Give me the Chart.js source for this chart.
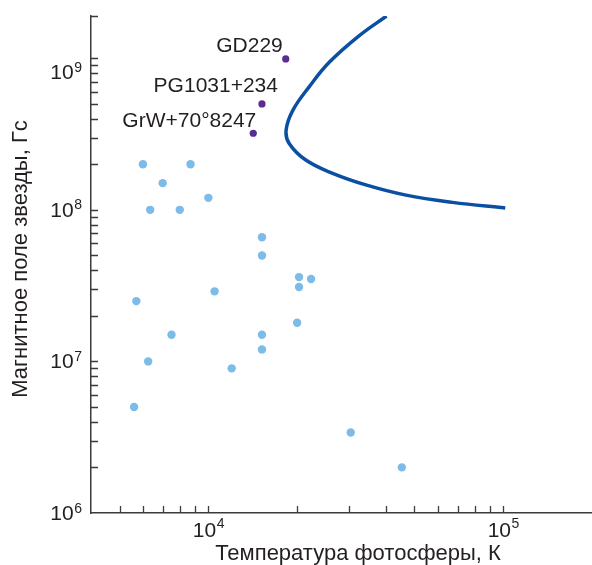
<!DOCTYPE html>
<html>
<head>
<meta charset="utf-8">
<script src="https://cdn.jsdelivr.net/npm/chart.js@4"></script>
<style>
  html, body { margin: 0; padding: 0; background: #fff; }
  #wrap { width: 592px; height: 565px; }
</style>
</head>
<body>
<div id="wrap"><canvas id="field-chart" width="592" height="565"></canvas></div>
<script>
// white dwarfs: photosphere temperature (K) vs magnetic field (G)
const blueTemp  = [6000, 8700, 7000, 6350, 8000, 10000, 15200, 15200, 20300, 22300, 20300, 5700, 10500, 7500, 6250, 5600, 12000, 15200, 15200, 20000, 30400, 45300];
const blueField = [2.0e8, 2.0e8, 1.5e8, 1.0e8, 1.0e8, 1.2e8, 6.6e7, 5.0e7, 3.6e7, 3.5e7, 3.1e7, 2.5e7, 2.9e7, 1.5e7, 1.0e7, 5.0e6, 9.0e6, 1.5e7, 1.2e7, 1.8e7, 3.4e6, 2.0e6];

const namedStars = ['GD229', 'PG1031+234', 'GrW+70°8247'];
const namedTemp  = [18300, 15200, 14200];
const namedField = [9.9e8, 5.0e8, 3.2e8];

const curveTemp  = [40200, 32500, 25700, 22000, 19300, 18350, 18800, 21400, 26400, 34200, 46800, 67300, 101600];
const curveField = [1.9e9, 1.41e9, 9.4e8, 6.5e8, 4.5e8, 3.35e8, 2.74e8, 2.13e8, 1.74e8, 1.46e8, 1.25e8, 1.12e8, 1.03e8];

const xTickLabels = [[1e4, '10', '4'], [1e5, '10', '5']];
const yTickLabels = [[1e6, '10', '6'], [1e7, '10', '7'], [1e8, '10', '8'], [1e9, '10', '9']];

const xTitle = 'Температура фотосферы, К';
const yTitle = 'Магнитное поле звезды, Гс';

// label placement next to the named stars (dx, dy from the dot, right aligned)
const nameOffsets = [[-3, -7], [16, -12], [3, -6]];
const yLabelShift = { 1e9: 14 };

const FONT = '"Liberation Sans", Arial, sans-serif';
const TEXT = '#231f20';
const AXIS = '#3b3b3b';

const toPoints = (xs, ys) => xs.map((v, i) => ({ x: v, y: ys[i] }));

const axisDecor = {
  id: 'axisDecor',
  afterDraw(chart) {
    const { ctx, chartArea, scales: { x, y } } = chart;
    ctx.save();
    ctx.strokeStyle = AXIS;
    ctx.lineWidth = 1.3;

    // inward ticks, every 1..9 of each decade
    ctx.beginPath();
    for (let d = 3; d <= 5; d++) {
      for (let m = 1; m <= 9; m++) {
        const v = m * Math.pow(10, d);
        if (v <= x.min || v > 1e5) continue;
        const px = Math.round(x.getPixelForValue(v)) + 0.5;
        ctx.moveTo(px, chartArea.bottom);
        ctx.lineTo(px, chartArea.bottom - 7);
      }
    }
    for (let d = 6; d <= 9; d++) {
      for (let m = 1; m <= 9; m++) {
        const v = m * Math.pow(10, d);
        if (v <= y.min || v > y.max) continue;
        const py = Math.round(y.getPixelForValue(v)) + 0.5;
        ctx.moveTo(chartArea.left, py);
        ctx.lineTo(chartArea.left + 7, py);
      }
    }
    ctx.moveTo(chartArea.left, Math.round(chartArea.top) + 0.5);
    ctx.lineTo(chartArea.left + 7, Math.round(chartArea.top) + 0.5);
    ctx.stroke();

    ctx.fillStyle = TEXT;
    ctx.textBaseline = 'alphabetic';

    // x tick labels with superscript
    for (const [v, base, exp] of xTickLabels) {
      const px = x.getPixelForValue(v);
      ctx.font = '21px ' + FONT;
      const wb = ctx.measureText(base).width;
      ctx.font = '14px ' + FONT;
      const we = ctx.measureText(exp).width;
      const left = px - (wb + we) / 2;
      ctx.font = '21px ' + FONT;
      ctx.textAlign = 'left';
      ctx.fillText(base, left, 537);
      ctx.font = '14px ' + FONT;
      ctx.fillText(exp, left + wb + 0.5, 528);
    }

    // y tick labels with superscript
    for (const [v, base, exp] of yTickLabels) {
      const py = y.getPixelForValue(v) + 7 + (yLabelShift[v] || 0);
      const right = chartArea.left - 9;
      ctx.textAlign = 'right';
      ctx.font = '14px ' + FONT;
      const we = ctx.measureText(exp).width;
      ctx.fillText(exp, right, py - 7.5);
      ctx.font = '21px ' + FONT;
      ctx.fillText(base, right - we - 0.5, py);
    }

    // names of the three stars
    ctx.font = '21px ' + FONT;
    ctx.textAlign = 'right';
    namedStars.forEach((name, i) => {
      const px = x.getPixelForValue(namedTemp[i]);
      const py = y.getPixelForValue(namedField[i]);
      ctx.fillText(name, px + nameOffsets[i][0], py + nameOffsets[i][1]);
    });

    // axis titles
    ctx.font = '22px ' + FONT;
    ctx.textAlign = 'center';
    ctx.fillText(xTitle, 358, 560);
    ctx.save();
    ctx.translate(27, 259);
    ctx.rotate(-Math.PI / 2);
    ctx.fillText(yTitle, 0, 0);
    ctx.restore();

    ctx.restore();
  }
};

const ctx = document.getElementById('field-chart').getContext('2d');
new Chart(ctx, {
  type: 'scatter',
  data: {
    datasets: [
      {
        label: 'curve',
        data: toPoints(curveTemp, curveField),
        showLine: true,
        borderColor: '#0b4fa3',
        borderWidth: 3.5,
        tension: 0.4,
        pointRadius: 0,
        fill: false,
      },
      {
        label: 'white dwarfs',
        data: toPoints(blueTemp, blueField),
        backgroundColor: '#7dbbe9',
        borderWidth: 0,
        pointRadius: 4.2,
      },
      {
        label: 'named',
        data: toPoints(namedTemp, namedField),
        backgroundColor: '#5b2c91',
        borderWidth: 0,
        pointRadius: 3.6,
      },
    ],
  },
  options: {
    responsive: false,
    animation: false,
    devicePixelRatio: 1,
    layout: { autoPadding: false, padding: { left: 91, right: 0, top: 16, bottom: 52 } },
    plugins: {
      legend: { display: false },
      tooltip: { enabled: false },
    },
    scales: {
      x: {
        type: 'logarithmic',
        min: 4000,
        max: 200000,
        grid: { display: false, drawTicks: false },
        border: { display: true, color: AXIS, width: 1.5 },
        ticks: { display: false },
      },
      y: {
        type: 'logarithmic',
        min: 1e6,
        max: 1.9e9,
        grid: { display: false, drawTicks: false },
        border: { display: true, color: AXIS, width: 1.5 },
        ticks: { display: false },
      },
    },
  },
  plugins: [axisDecor],
});
</script>
</body>
</html>
